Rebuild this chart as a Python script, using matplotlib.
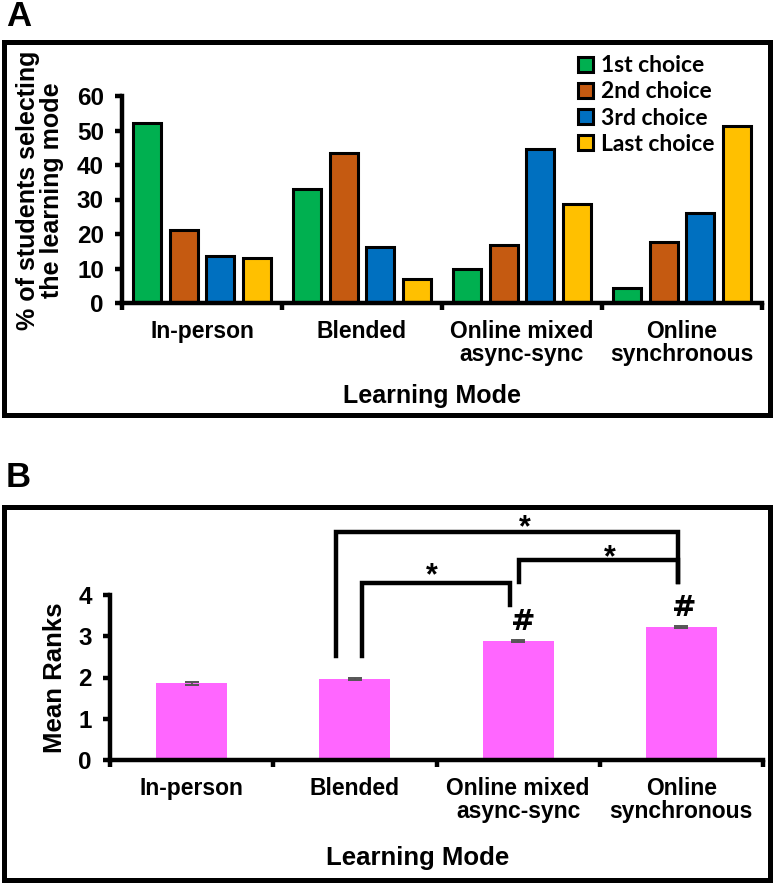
import matplotlib
matplotlib.use("Agg")
import matplotlib.pyplot as plt
import numpy as np
from matplotlib.patches import Patch, Rectangle

plt.rcParams["font.family"] = ["Liberation Sans", "DejaVu Sans"]
plt.rcParams["font.weight"] = "bold"

# data
modes = ["In-person", "Blended", "Online mixed\nasync-sync", "Online\nsynchronous"]
choices = ["1st choice", "2nd choice", "3rd choice", "Last choice"]
choice_colors = ["#00B050", "#C55A11", "#0070C0", "#FFC000"]
pct_first = [52.3, 33.1, 9.8, 4.4]
pct_second = [21.3, 43.6, 16.8, 17.8]
pct_third = [13.5, 16.3, 44.5, 26.0]
pct_last = [12.9, 6.9, 28.6, 51.4]
mean_ranks = [1.86, 1.96, 2.89, 3.23]
rank_err = [0.03, 0.03, 0.03, 0.03]
# brackets: (x_left, x_right, top, left leg bottom, right leg bottom)
brackets = [
    (0.884, 2.98, 5.53, 2.52, 4.32),
    (1.044, 1.95, 4.28, 2.52, 3.76),
    (2.005, 2.98, 4.85, 4.32, 4.32),
]
star_pos = [(2.04, 5.62), (1.47, 4.45), (2.56, 4.89)]
hash_pos = [(2.03, 3.34), (3.02, 3.68)]

W, H = 774, 884
fig = plt.figure(figsize=(W / 100, H / 100), dpi=100)


def fx(px):
    return px / W


def fy(py):
    return 1 - py / H


def style_axes(ax):
    for s in ["top", "right"]:
        ax.spines[s].set_visible(False)
    for s in ["left", "bottom"]:
        ax.spines[s].set_linewidth(3.2)
    ax.tick_params(axis="y", which="major", length=5, width=3.2, labelsize=17.5, pad=8)
    ax.tick_params(axis="x", which="major", length=5, width=3.2, labelbottom=False)
    ax.tick_params(axis="x", which="minor", length=0, labelsize=16.5, pad=12)
    x = np.arange(len(modes))
    ax.set_xticks(np.arange(len(modes) + 1) - 0.5)
    ax.set_xticks(x, minor=True)
    ax.set_xticklabels(modes, minor=True, fontweight="bold", linespacing=1.0)
    ax.set_xlim(-0.5, len(modes) - 0.5)


# panel frames
fig.add_artist(Rectangle((fx(4), fy(415)), fx(766), 373 / H, transform=fig.transFigure,
                         fill=False, lw=3.6, edgecolor="black"))
fig.add_artist(Rectangle((fx(4), fy(880)), fx(766), 373 / H, transform=fig.transFigure,
                         fill=False, lw=3.6, edgecolor="black"))
fig.text(fx(6), fy(17), "A", fontsize=25, fontweight="bold", va="center", ha="left")
fig.text(fx(6), fy(478), "B", fontsize=25, fontweight="bold", va="center", ha="left")

# panel A
axA = fig.add_axes([fx(122), fy(303), fx(640), 207 / H])
x = np.arange(len(modes))
step = 0.231
series = [pct_first, pct_second, pct_third, pct_last]
for i, (vals, col) in enumerate(zip(series, choice_colors)):
    axA.bar(x + (i - 1.5) * step, vals, width=0.175, color=col,
            edgecolor="black", linewidth=2.2, zorder=2)
axA.set_ylim(0, 60)
axA.set_yticks(range(0, 61, 10))
style_axes(axA)
fig.text(fx(40), fy(190), "% of students selecting\nthe learning mode", rotation=90,
         ha="center", va="center", fontsize=18, fontweight="bold", linespacing=0.97)
fig.text(fx(432), fy(396), "Learning Mode", ha="center", va="center",
         fontsize=18, fontweight="bold")
handles = [Patch(facecolor=c, edgecolor="black", linewidth=2.2) for c in choice_colors]
fig.legend(handles, choices, loc="upper left", bbox_to_anchor=(fx(567), fy(44)),
           frameon=False, borderpad=0, handlelength=0.65, handleheight=0.65,
           handletextpad=0.35, labelspacing=0.22,
           prop={"family": "Lato", "weight": "bold", "size": 16.5})

# panel B
axB = fig.add_axes([fx(110), fy(760), fx(653), 165 / H])
axB.bar(x, mean_ranks, width=0.435, color="#FF66FF", zorder=2)
axB.errorbar(x, mean_ranks, yerr=rank_err, fmt="none", ecolor="#555555",
             elinewidth=1.2, capsize=5, capthick=1.4, zorder=3)
axB.set_ylim(0, 4)
axB.set_yticks(range(0, 5))
style_axes(axB)
fig.text(fx(55), fy(678), "Mean Ranks", rotation=90, ha="center", va="center",
         fontsize=18.5, fontweight="bold")
fig.text(fx(418), fy(858), "Learning Mode", ha="center", va="center",
         fontsize=18.5, fontweight="bold")
for xl, xr, top, bl, br in brackets:
    axB.plot([xl, xl, xr, xr], [bl, top, top, br], color="black", lw=3.2,
             clip_on=False, solid_joinstyle="miter")
for sx, sy in star_pos:
    axB.text(sx, sy, "*", ha="center", va="center", fontsize=22, fontweight="bold")
for hx, hy in hash_pos:
    axB.text(hx, hy, "#", ha="center", va="center", fontsize=21, fontweight="bold",
             family="DejaVu Sans")

fig.savefig("out.png", dpi=100)
